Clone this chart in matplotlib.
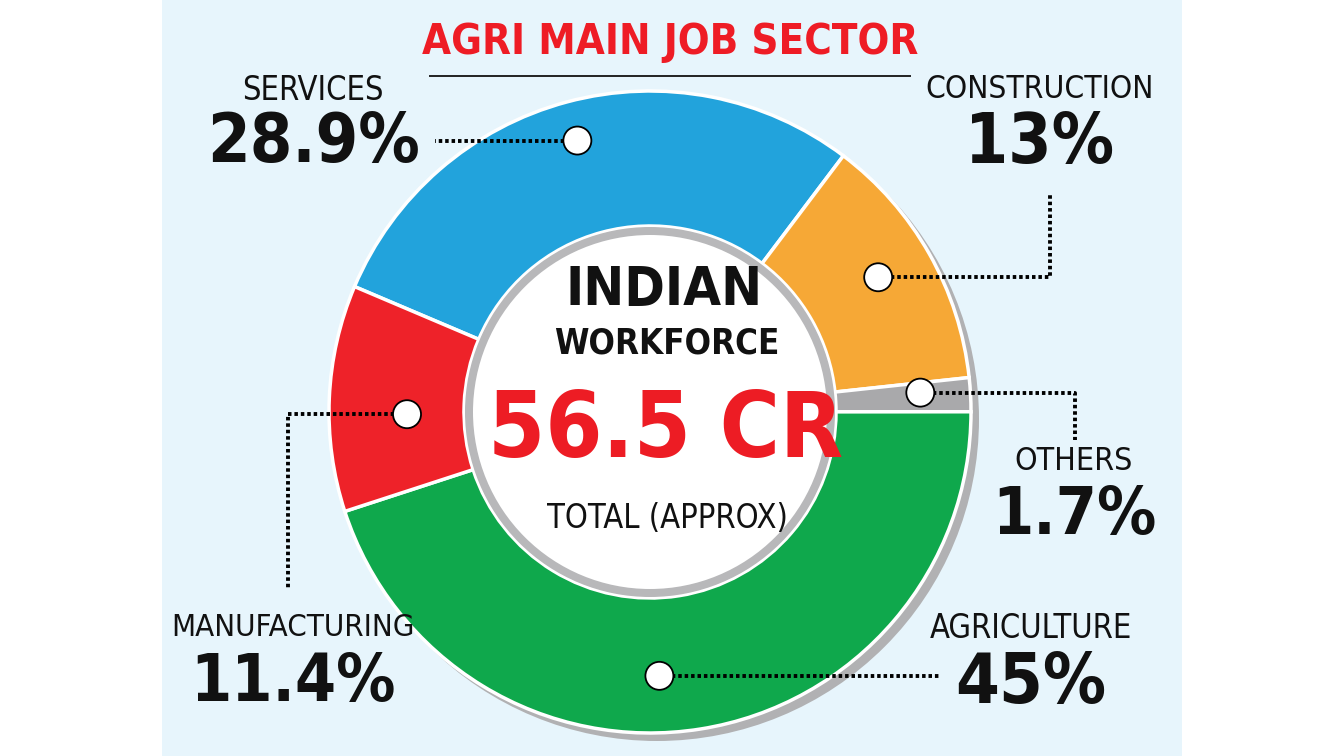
import numpy as np
import matplotlib
matplotlib.use("Agg")
import matplotlib.pyplot as plt
from matplotlib import font_manager as fm
from matplotlib.patches import Circle, Rectangle

# data
sectors = ["SERVICES", "CONSTRUCTION", "OTHERS", "AGRICULTURE", "MANUFACTURING"]
shares = [28.9, 13, 1.7, 45, 11.4]
share_labels = ["28.9%", "13%", "1.7%", "45%", "11.4%"]
total_text = "56.5 CR"
title = "AGRI MAIN JOB SECTOR"

colors = ["#22a3dc", "#f6a836", "#a9a9ab", "#0fa84c", "#ee2229"]

W, H = 1344, 756
fig = plt.figure(figsize=(W / 100, H / 100), dpi=100)
ax = fig.add_axes([0, 0, 1, 1])
ax.set_xlim(0, W)
ax.set_ylim(0, H)
ax.set_aspect("equal")
ax.axis("off")

# look for a narrow face, the original uses a compressed grotesque
FAM = ["DejaVu Sans"]
STRETCH = "normal"
for f in fm.fontManager.ttflist:
    tag = (f.name + " " + str(f.stretch)).lower()
    if "narrow" in tag or "condensed" in tag or "compressed" in tag:
        if "mono" in tag or "serif" in f.name.lower():
            continue
        FAM = [f.name, "DejaVu Sans"]
        STRETCH = "condensed"
        break

renderer = fig.canvas.get_renderer()


def Y(y):
    # image row -> data y
    return H - y


def fit_text(x, y, s, cap_px, width_px, bold=False, color="#111111", slack=1.0):
    # size from cap height, then shrink until it fits the width of the original
    fs = cap_px / 0.73 * 72 / 100
    t = ax.text(x, Y(y), s, ha="center", va="center", fontsize=fs, family=FAM,
                fontstretch=STRETCH, fontweight="bold" if bold else "normal",
                color=color, zorder=6)
    w = t.get_window_extent(renderer).width
    if w > width_px * slack:
        t.set_fontsize(fs * width_px * slack / w)
    return t


cx, cy = 650, Y(412)
R_OUT, R_IN = 321, 186

# light blue panel
ax.add_patch(Rectangle((162, 0), 1020, H, facecolor="#e7f5fc", edgecolor="none", zorder=0))

# grey shadow behind the ring
ax.add_patch(Circle((cx + 7, cy - 7), R_OUT + 1, facecolor="#b1b1b3", edgecolor="none", zorder=1))

wedges, _ = ax.pie(shares, colors=colors, startangle=157, counterclock=False,
                   radius=R_OUT, center=(cx, cy),
                   wedgeprops=dict(width=R_OUT - R_IN, edgecolor="white", linewidth=2.5))
for w in wedges:
    w.set_zorder(2)

# inner grey ring + white hole
ax.add_patch(Circle((cx, cy), R_IN - 1, facecolor="#b8b8ba", edgecolor="none", zorder=3))
ax.add_patch(Circle((cx, cy), R_IN - 9, facecolor="white", edgecolor="none", zorder=3))

# marker dots and leader lines
dot_nudge = [0, 1, 1, -7, 3]
dot_rad = [281, 265, 271, 264, 243]
# leader path after the dot: (x_end, y_end_of_vertical or None)
leaders = [(435, None), (1050, 195), (1075, 440), (940, None), (288, 590)]

dot_kw = dict(linestyle=(0, (0.9, 0.75)), color="black", linewidth=2.8, zorder=4,
              dash_capstyle="butt")
for w, nud, rr, (lx, ly) in zip(wedges, dot_nudge, dot_rad, leaders):
    ang = np.deg2rad((w.theta1 + w.theta2) / 2 + nud)
    dx, dy = cx + rr * np.cos(ang), cy + rr * np.sin(ang)
    xs, ys = [dx, lx], [dy, dy]
    if ly is not None:
        xs.append(lx)
        ys.append(Y(ly))
    ax.plot(xs, ys, **dot_kw)
    ax.add_patch(Circle((dx, dy), 14, facecolor="white", edgecolor="black", linewidth=1.3, zorder=5))

# sector labels: x centre, name row, value row, name width, value width
label_pos = [(313, 90, 143, 136, 197), (1040, 90, 143, 219, 138),
             (1074, 462, 516, 113, 152), (1031, 628, 683, 195, 140),
             (293, 628, 683, 233, 190)]
for name, val, (x, y1, y2, w1, w2) in zip(sectors, share_labels, label_pos):
    fit_text(x, y1, name, 26, w1, slack=1.04)
    fit_text(x, y2, val, 62, w2, bold=True, slack=1.08)

# centre text
fit_text(664, 290, "INDIAN", 44, 188, bold=True, slack=1.05)
fit_text(667, 344, "WORKFORCE", 32, 215, bold=True, slack=1.05)
fit_text(666, 432, total_text, 85, 338, bold=True, color="#ed1c24", slack=1.05)
fit_text(667, 518, "TOTAL (APPROX)", 33, 230, slack=1.05)

# title + rule
fit_text(670, 42, title, 38, 480, bold=True, color="#ee1c25", slack=1.03)
ax.plot([430, 910], [Y(76), Y(76)], color="#222222", linewidth=1.4, zorder=6)

ax.set_xlim(0, W)
ax.set_ylim(0, H)

fig.savefig("out.png", dpi=100, facecolor="white")
